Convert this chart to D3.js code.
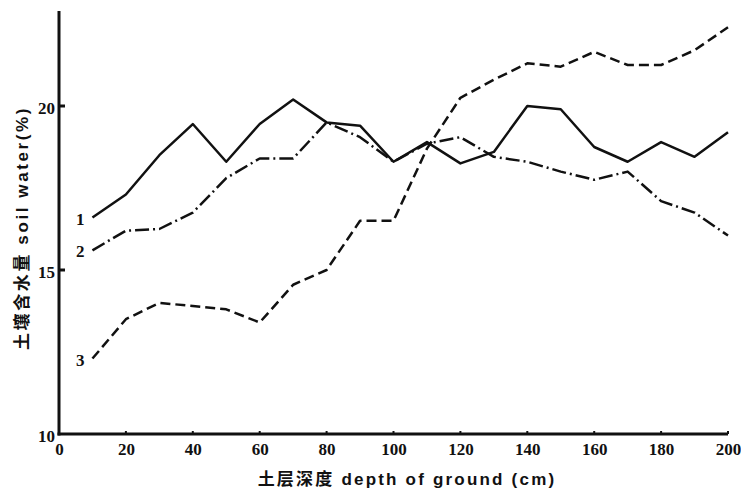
<!DOCTYPE html>
<html>
<head>
<meta charset="utf-8">
<script src="https://cdn.jsdelivr.net/npm/d3@7"></script>
<style>
  body { margin: 0; background: #fff; }
  svg { display: block; }
  .tick-label { font-family: "Liberation Serif", serif; font-weight: bold; font-size: 17px; fill: #111; }
  .axis-title { font-family: "Liberation Sans", "Noto Sans CJK SC", sans-serif; font-weight: bold; font-size: 17px; fill: #111; }
  .series-label { font-family: "Liberation Serif", serif; font-weight: bold; font-size: 17px; fill: #111; }
</style>
</head>
<body>
<div id="chart"></div>
<script>
// Dimensions
const width = 741;
const height = 494;

// Données
const depths = [10, 20, 30, 40, 50, 60, 70, 80, 90, 100, 110, 120, 130, 140, 150, 160, 170, 180, 190, 200];
const series1 = [16.6, 17.3, 18.5, 19.45, 18.3, 19.45, 20.2, 19.5, 19.4, 18.3, 18.9, 18.25, 18.6, 20.0, 19.9, 18.75, 18.3, 18.9, 18.45, 19.2];
const series2 = [15.6, 16.2, 16.25, 16.75, 17.8, 18.4, 18.4, 19.5, 19.05, 18.3, 18.85, 19.05, 18.45, 18.3, 18.0, 17.75, 18.0, 17.1, 16.75, 16.05];
const series3 = [12.3, 13.5, 14.0, 13.9, 13.8, 13.4, 14.55, 15.0, 16.5, 16.5, 18.7, 20.25, 20.8, 21.3, 21.2, 21.65, 21.25, 21.25, 21.7, 22.4];
const seriesNames = ["1", "2", "3"];
const xTicks = [0, 20, 40, 60, 80, 100, 120, 140, 160, 180, 200];
const yTicks = [10, 15, 20];

const svg = d3.select("#chart")
    .append("svg")
    .attr("width", width)
    .attr("height", height);

// Echelles
const x = d3.scaleLinear().domain([0, 200]).range([59, 728]);
const y = d3.scaleLinear().domain([10, 20]).range([434, 106]);
const yTop = y(22.9);

// Axe Y
const yAxis = d3.axisLeft(y)
    .tickValues(yTicks)
    .tickSize(0)
    .tickPadding(4)
    .tickFormat(d3.format("d"));

const gy = svg.append("g")
    .attr("transform", `translate(${x(0)},0)`)
    .call(yAxis);
gy.select(".domain").remove();
gy.selectAll("text").attr("class", "tick-label").attr("dy", "0.45em");

svg.append("line")
    .attr("x1", x(0)).attr("x2", x(0))
    .attr("y1", yTop).attr("y2", y(10) + 1.5)
    .attr("stroke", "#111").attr("stroke-width", 3);

// petits traits de graduation vers l'intérieur
svg.selectAll(".ytick")
    .data(yTicks.filter(d => d > 10))
    .join("line")
    .attr("x1", x(0)).attr("x2", x(0) + 6)
    .attr("y1", d => y(d)).attr("y2", d => y(d))
    .attr("stroke", "#111").attr("stroke-width", 3);

// Axe X
const xAxis = d3.axisBottom(x)
    .tickValues(xTicks)
    .tickSize(0)
    .tickPadding(8);

const gx = svg.append("g")
    .attr("transform", `translate(0,${y(10)})`)
    .call(xAxis);
gx.select(".domain").remove();
gx.selectAll("text").attr("class", "tick-label").attr("dy", "0.75em");

svg.append("line")
    .attr("x1", x(0) - 1.5).attr("x2", x(200))
    .attr("y1", y(10)).attr("y2", y(10))
    .attr("stroke", "#111").attr("stroke-width", 3);

svg.selectAll(".xtick")
    .data(xTicks.filter(d => d > 0))
    .join("line")
    .attr("x1", d => x(d)).attr("x2", d => x(d))
    .attr("y1", y(10)).attr("y2", y(10) - 3)
    .attr("stroke", "#111").attr("stroke-width", 2);

// Titres des axes
svg.append("text")
    .attr("class", "axis-title")
    .attr("x", 407)
    .attr("y", 485)
    .attr("text-anchor", "middle")
    .attr("letter-spacing", "2.2px")
    .text("土层深度 depth of ground (cm)");

svg.append("text")
    .attr("class", "axis-title")
    .attr("transform", "translate(28,228) rotate(-90)")
    .attr("text-anchor", "middle")
    .attr("letter-spacing", "2.6px")
    .text("土壤含水量 soil water(%)");

// Courbes
const line = d3.line()
    .x((d, i) => x(depths[i]))
    .y(d => y(d));

const styles = [
    { values: series1, dash: null },
    { values: series2, dash: "14,4,2,4" },
    { values: series3, dash: "10,5" }
];

styles.forEach((s, i) => {
    svg.append("path")
        .attr("d", line(s.values))
        .attr("fill", "none")
        .attr("stroke", "#111")
        .attr("stroke-width", 2.5)
        .attr("stroke-linejoin", "round")
        .attr("stroke-dasharray", s.dash);

    // étiquettes 1, 2, 3
    svg.append("text")
        .attr("class", "series-label")
        .attr("x", x(depths[0]) - 8)
        .attr("y", y(s.values[0]) + 7)
        .attr("text-anchor", "end")
        .text(seriesNames[i]);
});
</script>
</body>
</html>
